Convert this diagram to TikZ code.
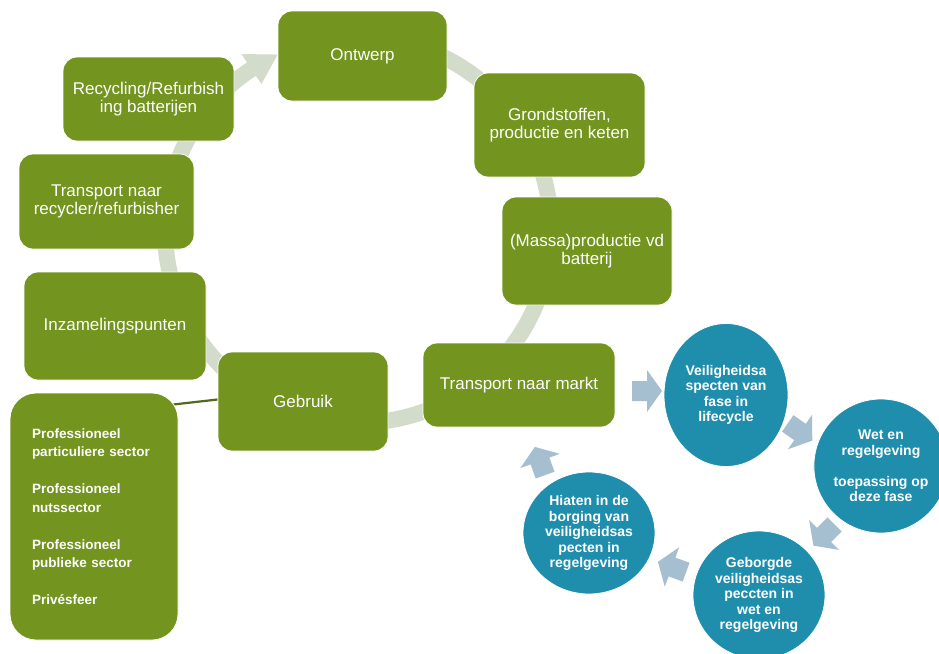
\documentclass[tikz,border=0pt]{standalone}
\usepackage{fontspec}
\setmainfont{Liberation Sans}
\usetikzlibrary{shapes.geometric,calc}
\definecolor{gbox}{RGB}{115,148,30}
\definecolor{bcirc}{RGB}{31,142,173}
\definecolor{barr}{RGB}{166,191,208}
\definecolor{ringc}{RGB}{211,219,203}
\definecolor{linkc}{RGB}{80,105,30}
\pgfdeclarelayer{background}
\pgfsetlayers{background,main}
\tikzset{
 gstep/.style={draw=white, line width=0.8pt, fill=gbox, rounded corners=14pt, text=white, align=center, inner sep=0pt, font=\fontsize{17}{17.5}\selectfont},
 bcircle/.style={ellipse, fill=bcirc, draw=white, line width=0.8pt, text=white, align=center, inner sep=0pt, font=\bfseries\fontsize{14}{15.5}\selectfont},
 ring/.style={draw=ringc, line width=16pt},
 link/.style={draw=linkc, line width=2.2pt},
 barrow/.pic={\fill[barr] (-15,-10) -- (0,-10) -- (0,-21) -- (15,0) -- (0,21) -- (0,10) -- (-15,10) -- cycle;}
}
\begin{document}
\begin{tikzpicture}[x=1pt,y=-1pt]
\useasboundingbox (0,0) rectangle (939,653);

% green cycle
\node[gstep, minimum width=169pt, minimum height=90pt] (ontwerp) at (362.5,56) {Ontwerp};
\node[gstep, minimum width=171pt, minimum height=84pt] (recyc) at (148.5,99) {Recycling/Refurbish\\ing batterijen};
\node[gstep, minimum width=171pt, minimum height=104pt] (grond) at (559.5,125) {Grondstoffen,\\productie en keten};
\node[gstep, minimum width=175pt, minimum height=95pt] (trrec) at (106.5,201.5) {Transport naar\\recycler/refurbisher};
\node[gstep, minimum width=170pt, minimum height=108pt] (massa) at (587,251) {(Massa)productie vd\\batterij};
\node[gstep, minimum width=182pt, minimum height=108pt] (inzam) at (115,326) {Inzamelingspunten};
\node[gstep, minimum width=170pt, minimum height=99pt] (gebruik) at (303,401.5) {Gebruik};
\node[gstep, minimum width=192pt, minimum height=84pt] (markt) at (519,385) {Transport naar markt};
\node[gstep, rounded corners=26pt, minimum width=168pt, minimum height=247pt, text width=124pt, align=left, font=\bfseries\fontsize{13.5}{18.5}\selectfont] (list) at (94,516.5)
 {Professioneel\\particuliere sector\\[18.5pt]Professioneel\\nutssector\\[18.5pt]Professioneel\\publieke sector\\[18.5pt]Privésfeer};

% blue cycle
\node[bcircle, minimum width=124pt, minimum height=143pt] (c1) at (726,395) {Veiligheidsa\\specten van\\fase in\\lifecycle};
\node[bcircle, minimum width=132pt, minimum height=134pt] (c2) at (881,466) {Wet en\\regelgeving\\[15.5pt]toepassing op\\deze fase};
\node[bcircle, minimum width=132pt, minimum height=128pt] (c3) at (759,595) {Geborgde\\veiligheidsas\\peccten in\\wet en\\regelgeving};
\node[bcircle, minimum width=132pt, minimum height=122pt] (c4) at (589,533) {Hiaten in de\\borging van\\veiligheidsas\\pecten in\\regelgeving};

\coordinate (a1) at (647,391);
\coordinate (a2) at (800,432);
\coordinate (a3) at (824,535);
\coordinate (a4) at (672,567);
\coordinate (a5) at (540,461);
\pic[rotate=0] at (a1) {barrow};
\pic[rotate=-35] at (a2) {barrow};
\pic[rotate=-135] at (a3) {barrow};
\pic[rotate=160] at (a4) {barrow};
\pic[rotate=110] at (a5) {barrow};

\coordinate (ctr) at (358,230);
\begin{pgfonlayer}{background}
\fill[white] (0,0) rectangle (939,653);
\draw[ring] ($(ctr)+(-100:193)$) arc[start angle=-100, end angle=237, radius=193];
\fill[ringc] ($(ctr)+(236.5:211)$) -- ($(ctr)+(245.4:193)$) -- ($(ctr)+(236.5:175)$) -- cycle;
\draw[link] ($(gebruik.west)+(0,-2)$) -- ($(list.north east)+(-6,12)$);
\end{pgfonlayer}
\end{tikzpicture}
\end{document}
